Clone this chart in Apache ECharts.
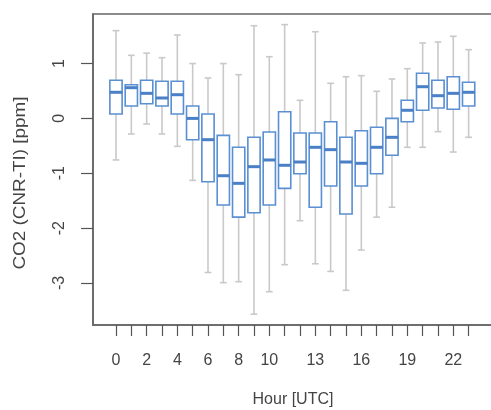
<!DOCTYPE html>
<html>
<head>
<meta charset="utf-8">
<script src="https://cdn.jsdelivr.net/npm/echarts@6/dist/echarts.min.js"></script>
<style>
html,body{margin:0;padding:0;background:#fff;overflow:hidden;}
#chart{width:500px;height:410px;}
</style>
</head>
<body>
<div id="chart"></div>
<script>
var hours = [0,1,2,3,4,5,6,7,8,9,10,11,12,13,14,15,16,17,18,19,20,21,22,23];
var whiskerHigh = [1.60,1.15,1.19,1.107,1.52,1.0,0.737,1.0,0.797,1.69,1.125,1.71,0.33,1.58,0.64,0.76,0.779,0.494,0.718,0.906,1.375,1.393,1.497,1.253];
var q3 = [0.695,0.614,0.695,0.676,0.676,0.226,0.08,-0.309,-0.527,-0.345,-0.248,0.122,-0.266,-0.266,-0.06,-0.345,-0.224,-0.162,0.0,0.33,0.822,0.695,0.76,0.658];
var median = [0.476,0.56,0.457,0.372,0.432,0.0,-0.388,-1.045,-1.184,-0.88,-0.758,-0.855,-0.795,-0.527,-0.57,-0.795,-0.819,-0.527,-0.345,0.148,0.578,0.414,0.457,0.476];
var q1 = [0.080,0.226,0.268,0.226,0.08,-0.388,-1.154,-1.58,-1.80,-1.72,-1.58,-1.275,-1.008,-1.62,-1.232,-1.743,-1.232,-1.008,-0.673,-0.06,0.148,0.19,0.166,0.226];
var whiskerLow = [-0.758,-0.284,-0.102,-0.284,-0.509,-1.13,-2.81,-2.995,-2.977,-3.57,-3.16,-2.667,-1.865,-2.65,-2.79,-3.134,-2.40,-1.80,-1.62,-0.527,-0.527,-0.242,-0.613,-0.345];
var xTickLabels = [0,2,4,6,8,10,13,16,19,22];
var yTickValues = [-3,-2,-1,0,1];

var data = hours.map(function(h,i){
  return [h+1, whiskerLow[i], q1[i], median[i], q3[i], whiskerHigh[i]];
});

var chart = echarts.init(document.getElementById('chart'), null, {renderer:'canvas'});
var font = 'Liberation Sans, Arial, sans-serif';
var axisCol = '#666';
chart.setOption({
  animation:false,
  backgroundColor:'#fff',
  grid:{left:93, top:14, width:402, height:311, show:true, borderColor:axisCol, borderWidth:1.6, backgroundColor:'transparent'},
  xAxis:{
    type:'value', min:-0.5, max:25.72,
    axisLine:{show:true, onZero:false, lineStyle:{color:axisCol, width:1.6}},
    splitLine:{show:false},
    axisTick:{show:true, length:11, lineStyle:{color:'#555', width:1.2}, customValues:hours.map(function(h){return h+1;})},
    axisLabel:{show:true, margin:28, fontSize:16, color:'#444', fontFamily:font,
      customValues:xTickLabels.map(function(h){return h+1;}),
      formatter:function(v){return String(Math.round(v-1));}}
  },
  yAxis:{
    type:'value', min:-3.7667, max:1.9034,
    axisLine:{show:true, onZero:false, lineStyle:{color:axisCol, width:1.6}},
    splitLine:{show:false},
    axisTick:{show:true, length:12, lineStyle:{color:'#555', width:1.2}, customValues:yTickValues},
    axisLabel:{show:true, margin:25, fontSize:16, color:'#444', fontFamily:font, rotate:90,
      customValues:yTickValues,
      formatter:function(v){return String(Math.round(v));}}
  },
  graphic:[
    {type:'text', x:21, y:183, rotation:Math.PI/2, scaleX:1.18,
      style:{text:'CO2 (CNR-TI) [ppm]', fontSize:16, fontFamily:font, fill:'#444', align:'center', verticalAlign:'middle'}},
    {type:'text', x:293, y:400,
      style:{text:'Hour [UTC]', fontSize:16, fontFamily:font, fill:'#444', align:'center', verticalAlign:'middle'}}
  ],
  series:[{
    type:'custom',
    data:data,
    encode:{x:0, y:[1,2,3,4,5]},
    renderItem:function(params, api){
      var x = api.value(0);
      var pLo = api.coord([x, api.value(1)]);
      var pQ1 = api.coord([x, api.value(2)]);
      var pMed = api.coord([x, api.value(3)]);
      var pQ3 = api.coord([x, api.value(4)]);
      var pHi = api.coord([x, api.value(5)]);
      var half = api.size([0.8,0])[0]/2;
      var cap = api.size([0.44,0])[0]/2;
      var cx = pMed[0];
      var gray = {stroke:'#c9c9c9', lineWidth:1.6};
      return {type:'group', children:[
        {type:'line', shape:{x1:cx,y1:pHi[1],x2:cx,y2:pQ3[1]}, style:gray},
        {type:'line', shape:{x1:cx,y1:pQ1[1],x2:cx,y2:pLo[1]}, style:gray},
        {type:'line', shape:{x1:cx-cap,y1:pHi[1],x2:cx+cap,y2:pHi[1]}, style:gray},
        {type:'line', shape:{x1:cx-cap,y1:pLo[1],x2:cx+cap,y2:pLo[1]}, style:gray},
        {type:'rect', shape:{x:cx-half, y:pQ3[1], width:half*2, height:pQ1[1]-pQ3[1]},
          style:{fill:'#fff', stroke:'#5a8fd2', lineWidth:1.6}},
        {type:'line', shape:{x1:cx-half,y1:pMed[1],x2:cx+half,y2:pMed[1]}, style:{stroke:'#4a80c6', lineWidth:3}}
      ]};
    }
  }]
});
</script>
</body>
</html>
